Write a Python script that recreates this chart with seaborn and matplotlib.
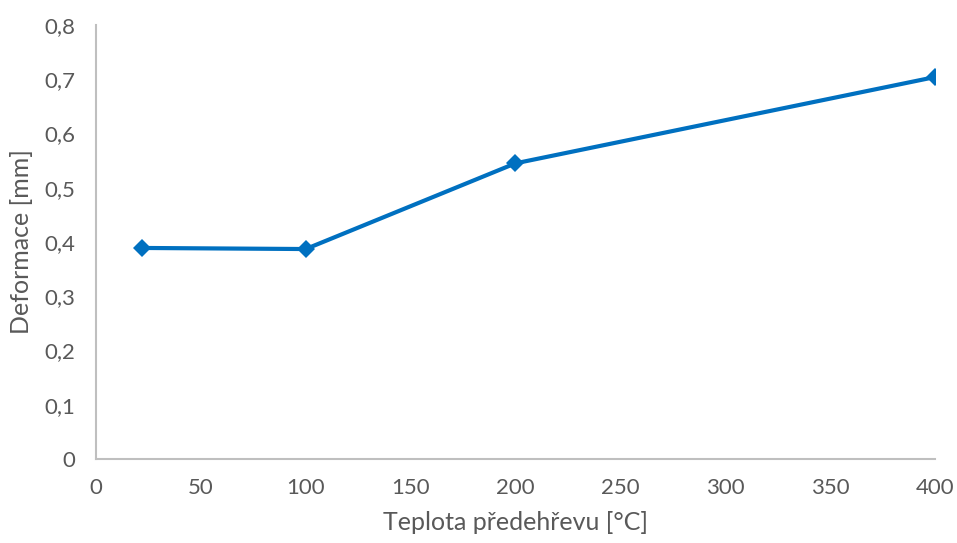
import numpy as np
import pandas as pd
import seaborn as sns
import matplotlib.pyplot as plt
from matplotlib.ticker import FuncFormatter

teplota = [22, 100, 200, 400]
deformace = [0.389, 0.387, 0.545, 0.704]

df = pd.DataFrame({'Teplota': teplota, 'Deformace': deformace})

sns.set_style('white')
plt.rcParams['font.family'] = ['Lato', 'DejaVu Sans']

fig = plt.figure(figsize=(9.57, 5.43), dpi=100)
ax = fig.add_axes([0.1003, 0.1547, 0.8767, 0.7993])

sns.lineplot(x='Teplota', y='Deformace', data=df, ax=ax, color='#0070C0',
             linewidth=3, marker='D', markersize=9, markeredgewidth=0)

ax.set_xlim(0, 400)
ax.set_ylim(0, 0.8)
ax.set_xticks(np.arange(0, 401, 50))
ax.set_yticks(np.arange(0, 0.81, 0.1))
ax.yaxis.set_major_formatter(FuncFormatter(lambda v, p: ('%.1f' % v).replace('.', ',') if v > 0.001 else '0'))

grey = '#595959'
ax.tick_params(axis='both', length=0, labelsize=16, labelcolor=grey)
ax.tick_params(axis='y', pad=15)
ax.tick_params(axis='x', pad=14)
ax.set_xlabel('Teplota předehřevu [°C]', fontsize=18, color=grey, labelpad=9)
ax.set_ylabel('Deformace [mm]', fontsize=18, color=grey, labelpad=8)

for s in ['top', 'right']:
    ax.spines[s].set_visible(False)
for s in ['left', 'bottom']:
    ax.spines[s].set_color('#BFBFBF')
    ax.spines[s].set_linewidth(1.5)

fig.savefig('out.png', dpi=100)
